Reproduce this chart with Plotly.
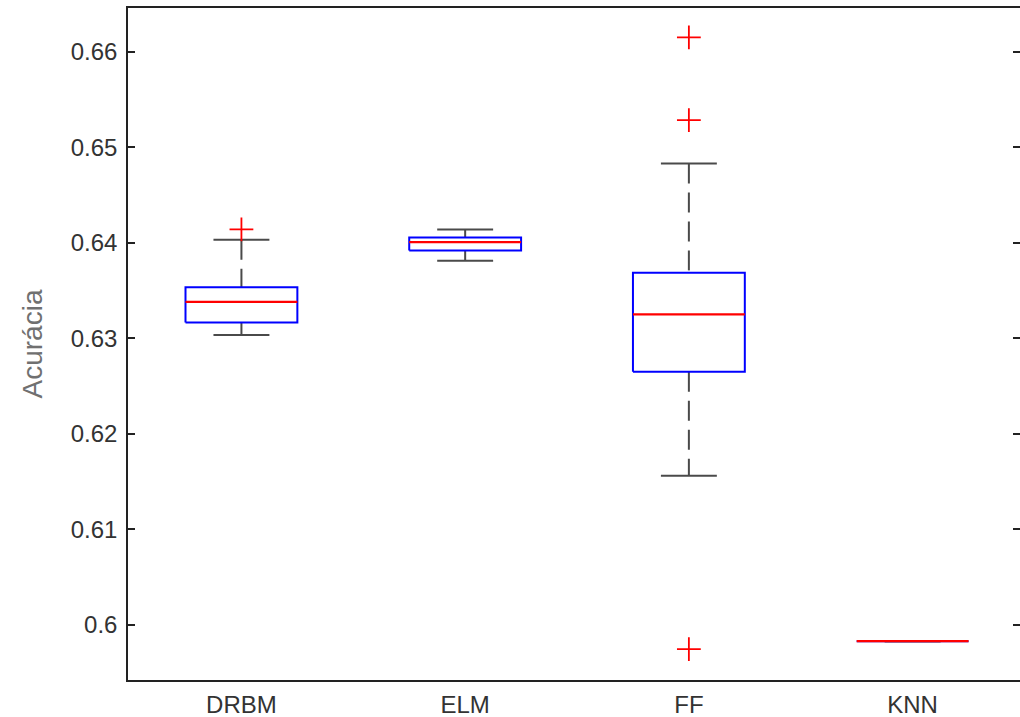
import plotly.graph_objects as go

# ---- data ----
models = ["DRBM", "ELM", "FF", "KNN"]
q1 = [0.63165, 0.63919, 0.62648, 0.59828]
medians = [0.63381, 0.64006, 0.63249, 0.59828]
q3 = [0.63532, 0.64055, 0.63685, 0.59828]
lower_whisker = [0.63033, 0.63810, 0.61559, 0.59828]
upper_whisker = [0.64030, 0.64139, 0.64830, 0.59828]
outlier_model = ["DRBM", "FF", "FF", "FF"]
outlier_values = [0.64139, 0.66150, 0.65284, 0.59745]
ytick_vals = [0.60, 0.61, 0.62, 0.63, 0.64, 0.65, 0.66]
ytick_text = ["0.6", "0.61", "0.62", "0.63", "0.64", "0.65", "0.66"]

BOX_HW = 0.25
CAP_HW = 0.125
pos = {m: i + 1 for i, m in enumerate(models)}

# build line geometry from data
wx, wy, cx, cy, bx, by, mx, my = [], [], [], [], [], [], [], []
for m, a, b, c, lo, hi in zip(models, q1, medians, q3, lower_whisker, upper_whisker):
    p = pos[m]
    wx += [p, p, None, p, p, None]
    wy += [hi, c, None, a, lo, None]
    cx += [p - CAP_HW, p + CAP_HW, None, p - CAP_HW, p + CAP_HW, None]
    cy += [hi, hi, None, lo, lo, None]
    bx += [p - BOX_HW, p + BOX_HW, p + BOX_HW, p - BOX_HW, p - BOX_HW, None]
    by += [a, a, c, c, a, None]
    mx += [p - BOX_HW, p + BOX_HW, None]
    my += [b, b, None]

fig = go.Figure()
fig.add_trace(go.Scatter(x=wx, y=wy, mode="lines",
                         line=dict(color="#4a4a4a", width=2, dash="20px,9px"),
                         hoverinfo="skip", showlegend=False))
fig.add_trace(go.Scatter(x=cx, y=cy, mode="lines",
                         line=dict(color="#4a4a4a", width=2),
                         hoverinfo="skip", showlegend=False))
fig.add_trace(go.Scatter(x=bx, y=by, mode="lines",
                         line=dict(color="#0000FF", width=2),
                         hoverinfo="skip", showlegend=False))
fig.add_trace(go.Scatter(x=mx, y=my, mode="lines",
                         line=dict(color="#FF0000", width=2.2),
                         hoverinfo="skip", showlegend=False))
fig.add_trace(go.Scatter(x=[pos[m] for m in outlier_model], y=outlier_values,
                         mode="markers",
                         marker=dict(symbol="cross-thin", size=17,
                                     line=dict(color="#FF0000", width=1.8)),
                         showlegend=False))

font_family = "Liberation Sans, Arial, sans-serif"
fig.update_layout(
    template="none",
    width=1020, height=717, autosize=False,
    margin=dict(l=128, r=0, t=8, b=37, pad=0),
    paper_bgcolor="white", plot_bgcolor="white",
    font=dict(family=font_family, size=24, color="#333333"),
    xaxis=dict(range=[0.493, 4.480], tickvals=[pos[m] for m in models], ticktext=models,
               showgrid=False, zeroline=False, showline=True, mirror=True,
               linecolor="#222222", linewidth=1.5, ticks="", automargin=False,
               ticklabelstandoff=2,
               tickfont=dict(size=24, color="#333333")),
    yaxis=dict(range=[0.59421, 0.66457], tickvals=ytick_vals, ticktext=ytick_text,
               showgrid=False, zeroline=False, showline=True, mirror="ticks",
               linecolor="#222222", linewidth=1.5, ticks="inside", ticklen=7,
               tickwidth=1.5, tickcolor="#222222", ticklabelstandoff=4,
               automargin=False,
               tickfont=dict(size=24, color="#333333"),
               title=dict(text="Acurácia", font=dict(size=28, color="#707070"),
                          standoff=20)),
)

fig.write_html("out.html",
               config={"displayModeBar": False},
               post_script="document.body.style.margin='0';document.body.style.overflow='hidden';")
